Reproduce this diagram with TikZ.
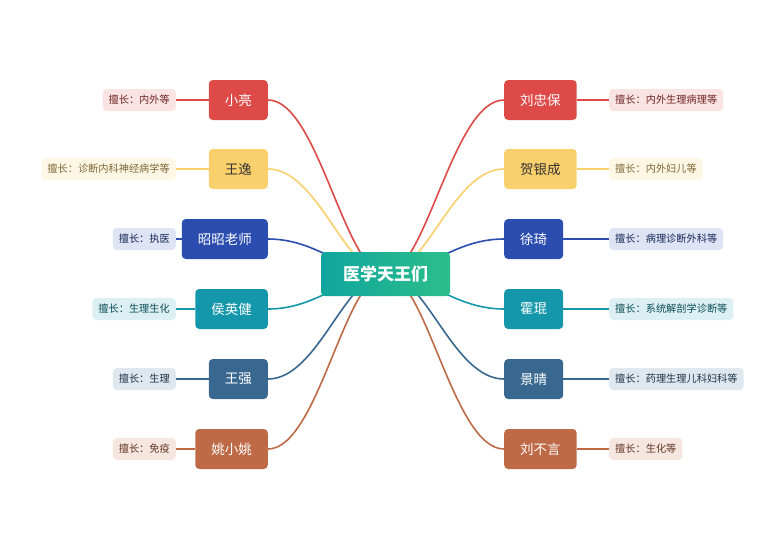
\documentclass[tikz,border=0pt]{standalone}
\usepackage{fontspec}
\setmainfont{Noto Sans CJK SC}
\usetikzlibrary{backgrounds}
\definecolor{cR}{HTML}{DD4A48}\definecolor{lcR}{HTML}{FAE3E3}
\definecolor{cY}{HTML}{FAD06C}\definecolor{lcY}{HTML}{FEF7E6}
\definecolor{cB}{HTML}{2A4DAF}\definecolor{lcB}{HTML}{DEE4F3}
\definecolor{cT}{HTML}{1597AB}\definecolor{lcT}{HTML}{DCF0F3}
\definecolor{cS}{HTML}{386890}\definecolor{lcS}{HTML}{E0E8EF}
\definecolor{cO}{HTML}{BE6A46}\definecolor{lcO}{HTML}{F5E6DF}
\definecolor{g1}{HTML}{10A69E}\definecolor{g2}{HTML}{2BBE8A}
\tikzset{x=1pt,y=-1pt,
 br/.style={rounded corners=4pt,minimum height=40pt,inner xsep=16pt,font=\fontsize{13.5}{13.5}\selectfont,text=white,fill=#1},
 lab/.style={rounded corners=4pt,minimum height=22pt,inner xsep=6pt,font=\fontsize{10.2}{10.2}\selectfont,fill=#1},
 con/.style={draw=#1,line width=1.6pt}}
\begin{document}
\begin{tikzpicture}
\useasboundingbox (0,0) rectangle (771,552);
\node[rounded corners=4pt,minimum width=129pt,minimum height=44pt,left color=g1,right color=g2,text=white,font=\fontsize{17}{17}\selectfont\bfseries] (c) at (385.5,274) {医学天王们};
\def\L#1#2#3#4#5#6{%
 \node[br=#1,anchor=east,text=#6] (n#2) at (268,#3) {#4};
 \node[lab=l#1,anchor=east,text=#1!50!black] (l#2) at (176,#3) {#5};
 \begin{scope}[on background layer]
 \draw[con=#1] (l#2.east) -- (n#2.west);
 \draw[con=#1] (c.center) .. controls (345,274) and (318,#3) .. (n#2.east);
 \end{scope}}
\def\R#1#2#3#4#5#6{%
 \node[br=#1,anchor=west,text=#6] (n#2) at (504,#3) {#4};
 \node[lab=l#1,anchor=west,text=#1!50!black] (l#2) at (609,#3) {#5};
 \begin{scope}[on background layer]
 \draw[con=#1] (n#2.east) -- (l#2.west);
 \draw[con=#1] (c.center) .. controls (426,274) and (453,#3) .. (n#2.west);
 \end{scope}}
\L{cR}{a}{100}{小亮}{擅长：内外等}{white}
\L{cY}{b}{169}{王逸}{擅长：诊断内科神经病学等}{black!80}
\L{cB}{c}{239}{昭昭老师}{擅长：执医}{white}
\L{cT}{d}{309}{侯英健}{擅长：生理生化}{white}
\L{cS}{e}{379}{王强}{擅长：生理}{white}
\L{cO}{f}{449}{姚小姚}{擅长：免疫}{white}
\R{cR}{g}{100}{刘忠保}{擅长：内外生理病理等}{white}
\R{cY}{h}{169}{贺银成}{擅长：内外妇儿等}{black!80}
\R{cB}{i}{239}{徐琦}{擅长：病理诊断外科等}{white}
\R{cT}{j}{309}{霍琨}{擅长：系统解剖学诊断等}{white}
\R{cS}{k}{379}{景晴}{擅长：药理生理儿科妇科等}{white}
\R{cO}{m}{449}{刘不言}{擅长：生化等}{white}
\end{tikzpicture}
\end{document}
